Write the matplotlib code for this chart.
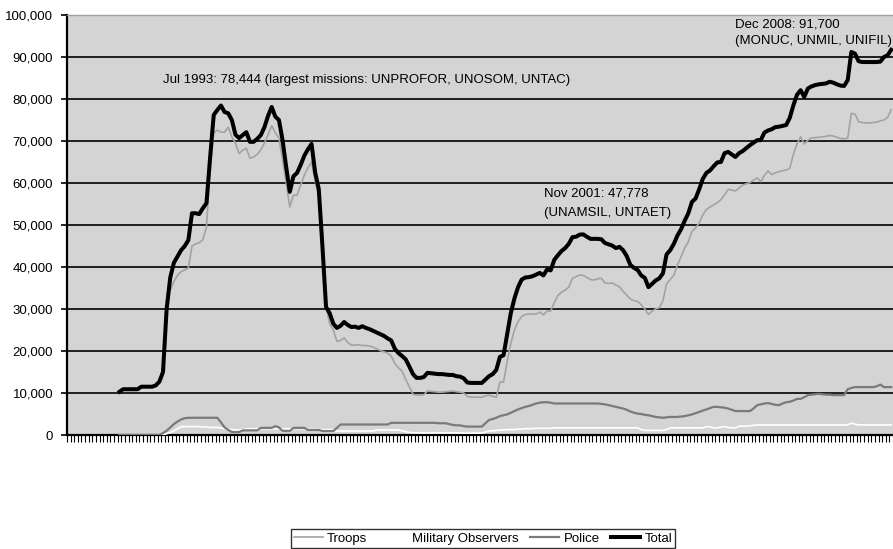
import numpy as np
import matplotlib.pyplot as plt
from matplotlib.ticker import FuncFormatter

nan = np.nan

# monthly figures, Jan 1990 .. Dec 2008 (one row per year)
total = [
    nan, nan, nan, nan, nan, nan, nan, nan, nan, nan, nan, nan,
    nan, nan, 10300, 10900, 10900, 10900, 10900, 10900, 11500, 11500, 11500, 11500,
    11800, 12700, 15000, 30000, 37500, 41000, 42500, 44000, 45000, 46400, 52800, 52800,
    52600, 54000, 55200, 66000, 76200, 77400, 78444, 76900, 76600, 75000, 71500, 70700,
    71400, 72100, 69800, 69800, 70500, 71400, 73300, 76000, 78100, 75800, 75000, 70200,
    63800, 57900, 61600, 62400, 64300, 66500, 68000, 69300, 62500, 58500, 45000, 30500,
    29000, 26500, 25500, 26000, 26900, 26200, 25700, 25800, 25500, 25900, 25500, 25200,
    24800, 24400, 24000, 23600, 23000, 22500, 20500, 19500, 18800, 18000, 16300, 14500,
    13600, 13600, 13800, 14800, 14700, 14600, 14500, 14500, 14400, 14300, 14300, 14000,
    13900, 13500, 12500, 12400, 12400, 12400, 12400, 13200, 14000, 14500, 15500, 18600,
    19000, 24000, 29000, 32500, 35200, 37000, 37500, 37600, 37800, 38200, 38600, 38000,
    39400, 39200, 41700, 42800, 43800, 44500, 45500, 47100, 47200, 47700, 47778, 47200,
    46700, 46700, 46700, 46600, 45700, 45400, 45100, 44500, 44800, 44000, 42600, 40500,
    39800, 39300, 38000, 37400, 35200, 36000, 36800, 37300, 38500, 43000, 44000, 45500,
    47500, 49000, 51000, 52800, 55500, 56300, 58500, 61000, 62400, 63000, 64000, 64900,
    65000, 67100, 67400, 66800, 66200, 67100, 67600, 68300, 69000, 69600, 70200, 70200,
    72000, 72500, 72800, 73300, 73400, 73600, 73800, 75500, 78500, 81000, 82100, 80500,
    82500, 83000, 83300, 83500, 83600, 83700, 84100, 83900, 83500, 83200, 83100, 84500,
    91200, 90800, 89000, 88800, 88800, 88800, 88800, 88800, 88900, 90000, 90400, 91700,
]

troops = [
    nan, nan, nan, nan, nan, nan, nan, nan, nan, nan, nan, nan,
    nan, nan, nan, nan, nan, nan, nan, nan, nan, nan, nan, nan,
    nan, nan, nan, nan, 34500, 36500, 38000, 38900, 39300, 39800, 45000, 45500,
    45800, 46500, 49500, 64000, 71900, 72600, 72100, 72100, 73300, 71000, 69500, 67000,
    67800, 68300, 65900, 66200, 66800, 67900, 69500, 71500, 73600, 72000, 70700, 65500,
    60000, 54300, 57100, 57100, 59500, 61800, 63600, 65000, 60500, 56700, 45000, 30500,
    26500, 25000, 22300, 22500, 23100, 22000, 21400, 21400, 21500, 21300, 21300, 21200,
    20900, 20500, 20100, 19800, 19500, 18800, 17000, 16000, 15200, 13200, 11500, 9700,
    9500, 9500, 9600, 10500, 10400, 10300, 10200, 10200, 10300, 10400, 10500, 10300,
    10200, 10000, 9200, 9000, 9000, 9000, 9000, 9300, 9500, 9200, 9000, 12600,
    12600, 17500, 21800, 25000, 27000, 28200, 28700, 28800, 28800, 28800, 29300, 28600,
    29500, 29500, 31500, 33200, 34000, 34500, 35200, 37300, 37700, 38100, 38000, 37500,
    37000, 36900, 37200, 37300, 36200, 36100, 36200, 35700, 35300, 34200, 33300, 32400,
    32000, 31800, 31000, 30000, 28700, 29500, 30000, 30300, 32000, 36000, 37000, 38000,
    40500, 42400, 44500, 46000, 48500, 49300, 50500, 52400, 53700, 54300, 54800, 55300,
    56000, 57200, 58500, 58300, 58100, 58800, 59500, 59800, 60100, 60700, 61200, 60300,
    61800, 62900, 62000, 62400, 62700, 62900, 63100, 63500, 66800, 69300, 71000, 69300,
    70200, 70700, 70800, 70900, 71000, 71100, 71300, 71200, 70900, 70600, 70500, 70700,
    76600, 76400, 74600, 74400, 74300, 74300, 74400, 74500, 74800, 75000, 75600, 77500,
]

observers = [
    nan, nan, nan, nan, nan, nan, nan, nan, nan, nan, nan, nan,
    nan, nan, 0, 0, 0, 0, 0, 0, 0, 0, 0, 0,
    0, 0, 0, 300, 600, 1000, 1500, 2000, 2000, 2000, 2000, 2000,
    2000, 1900, 1900, 1800, 1800, 1800, 1700, 1500, 1300, 1300, 1200, 1200,
    1300, 1400, 1500, 1500, 1500, 1500, 1500, 1500, 1500, 1500, 1500, 1500,
    1500, 1500, 1500, 1500, 1500, 1400, 1400, 1400, 1400, 1300, 1300, 1300,
    1300, 1300, 950, 950, 950, 950, 950, 950, 950, 950, 950, 950,
    950, 1200, 1200, 1200, 1200, 1200, 1200, 1200, 1000, 800, 600, 550,
    500, 500, 500, 500, 500, 500, 500, 500, 500, 500, 500, 500,
    450, 450, 450, 450, 450, 450, 450, 700, 950, 1000, 1100, 1200,
    1200, 1300, 1300, 1300, 1400, 1400, 1500, 1500, 1500, 1600, 1600, 1600,
    1600, 1600, 1700, 1700, 1700, 1700, 1700, 1700, 1700, 1700, 1700, 1700,
    1700, 1700, 1700, 1700, 1700, 1700, 1700, 1700, 1700, 1700, 1700, 1700,
    1700, 1700, 1300, 1100, 1100, 1100, 1100, 1100, 1100, 1300, 1700, 1700,
    1700, 1700, 1700, 1700, 1700, 1700, 1700, 1700, 2000, 1900, 1700, 1700,
    1900, 2000, 1800, 1700, 1700, 2100, 2100, 2100, 2200, 2300, 2400, 2400,
    2400, 2400, 2400, 2400, 2400, 2400, 2400, 2400, 2400, 2400, 2400, 2400,
    2400, 2400, 2400, 2400, 2400, 2400, 2400, 2400, 2400, 2400, 2400, 2400,
    2800, 2600, 2400, 2400, 2400, 2400, 2400, 2400, 2400, 2400, 2400, 2400,
]

police = [
    nan, nan, nan, nan, nan, nan, nan, nan, nan, nan, nan, nan,
    nan, nan, 0, 0, 0, 0, 0, 0, 0, 0, 0, 0,
    0, 0, 500, 1000, 1800, 2600, 3200, 3700, 4000, 4100, 4100, 4100,
    4100, 4100, 4100, 4100, 4100, 4100, 3000, 1800, 1200, 700, 700, 700,
    1100, 1100, 1100, 1100, 1100, 1700, 1700, 1700, 1700, 2100, 1800, 1000,
    950, 950, 1700, 1700, 1700, 1700, 1200, 1200, 1200, 1200, 950, 950,
    950, 950, 1700, 2500, 2500, 2500, 2500, 2500, 2500, 2500, 2500, 2500,
    2500, 2500, 2500, 2500, 2500, 2900, 2900, 2900, 2900, 2900, 2900, 2900,
    2900, 2900, 2900, 2900, 2900, 2900, 2800, 2800, 2800, 2600, 2400, 2300,
    2300, 2100, 2000, 2000, 2000, 2000, 2000, 2800, 3600, 3800, 4100, 4500,
    4700, 4900, 5300, 5700, 6100, 6400, 6700, 6900, 7200, 7500, 7700, 7800,
    7800, 7700, 7500, 7500, 7500, 7500, 7500, 7500, 7500, 7500, 7500, 7500,
    7500, 7500, 7500, 7400, 7300, 7100, 6900, 6700, 6500, 6300, 6000, 5600,
    5300, 5100, 5000, 4800, 4700, 4500, 4300, 4200, 4100, 4200, 4300, 4300,
    4300, 4400, 4500, 4700, 4900, 5200, 5500, 5800, 6100, 6400, 6700, 6700,
    6600, 6500, 6300, 6000, 5700, 5700, 5700, 5700, 5700, 6300, 7100, 7300,
    7500, 7600, 7400, 7200, 7100, 7500, 7800, 7900, 8200, 8600, 8600, 9000,
    9500, 9600, 9700, 9800, 9700, 9600, 9600, 9500, 9500, 9500, 9500, 10900,
    11200, 11400, 11400, 11400, 11400, 11400, 11400, 11600, 12000, 11400, 11400, 11400,
]

months = np.arange(len(total))  # 0 = Jan 1990

plt.rcParams['font.family'] = ['Liberation Sans', 'DejaVu Sans']
plt.rcParams['font.size'] = 9.5

fig = plt.figure(figsize=(8.93, 5.49), dpi=100)
ax = fig.add_axes([67 / 893, 1 - 435 / 549, 1 - 67 / 893, 420 / 549])
ax.set_facecolor('#d4d4d4')

# horizontal gridlines
for v in range(10000, 100000, 10000):
    ax.axhline(v, color='#111111', lw=1.3, zorder=1)

ax.plot(months, troops, color='#a3a3a3', lw=1.2, label='Troops', zorder=3)
ax.plot(months, observers, color='white', lw=1.2, label='Military Observers', zorder=3)
ax.plot(months, police, color='#7a7a7a', lw=1.6, label='Police', zorder=3)
ax.plot(months, total, color='black', lw=2.9, label='Total', zorder=4)

ax.set_xlim(-0.5, len(total) - 0.5)
ax.set_ylim(0, 100000)
ax.set_yticks(range(0, 100001, 10000))
ax.yaxis.set_major_formatter(FuncFormatter(lambda v, p: f'{int(v):,}'))
ax.set_xticks(np.arange(-0.5, len(total), 1))
ax.set_xticklabels([])
ax.tick_params(axis='x', direction='out', length=5, width=0.8, color='black')
ax.tick_params(axis='y', direction='out', length=4, width=1.2, color='black', pad=6,
               labelsize=9.5)

for s in ['right']:
    ax.spines[s].set_visible(False)
ax.spines['top'].set_color('#a0a0a0')
ax.spines['top'].set_linewidth(1.0)
ax.spines['left'].set_linewidth(1.6)
ax.spines['bottom'].set_linewidth(1.6)

ax.text(26, 84500, 'Jul 1993: 78,444 (largest missions: UNPROFOR, UNOSOM, UNTAC)',
        va='center', ha='left', fontsize=9.5)
ax.text(131.3, 57400, 'Nov 2001: 47,778', va='center', ha='left', fontsize=9.5)
ax.text(131.3, 52900, '(UNAMSIL, UNTAET)', va='center', ha='left', fontsize=9.5)
ax.text(183.8, 97800, 'Dec 2008: 91,700', va='center', ha='left', fontsize=9.5)
ax.text(183.8, 93800, '(MONUC, UNMIL, UNIFIL)', va='center', ha='left', fontsize=9.5)

leg = fig.legend(loc='upper center', bbox_to_anchor=(483 / 893, 1 - 529 / 549),
                 ncol=4, frameon=True, fancybox=False, fontsize=9.5,
                 handlelength=2.2, handletextpad=0.3, columnspacing=0.9,
                 borderpad=0.25, borderaxespad=0)
leg.get_frame().set_edgecolor('black')
leg.get_frame().set_linewidth(1.0)
leg.get_frame().set_facecolor('white')

fig.savefig('out.png', dpi=100)
